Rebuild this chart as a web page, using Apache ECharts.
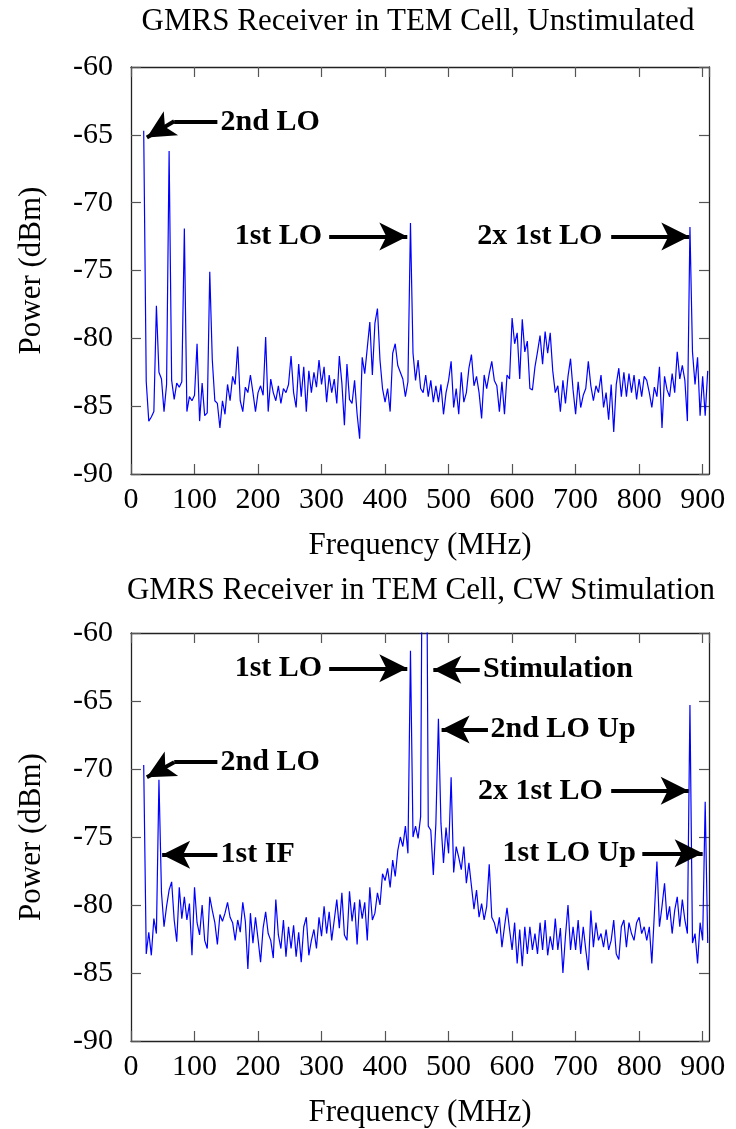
<!DOCTYPE html>
<html>
<head>
<meta charset="utf-8">
<script src="https://cdn.jsdelivr.net/npm/echarts@6/dist/echarts.min.js"></script>
<style>
  html, body { margin: 0; padding: 0; background: #fff; }
  #chart { width: 736px; height: 1129px; }
</style>
</head>
<body>
<div id="chart"></div>
<script>
// frequency grid (MHz) shared by both sweeps
var freqs = [
  20, 24, 28, 32, 36, 40, 44, 48, 52, 56,
  60, 64, 68, 72, 76, 80, 84, 88, 92, 96,
  100, 104, 108, 112, 116, 120, 124, 128, 132, 136,
  140, 144, 148, 152, 156, 160, 164, 168, 172, 176,
  180, 184, 188, 192, 196, 200, 204, 208, 212, 216,
  220, 224, 228, 232, 236, 240, 244, 248, 252, 256,
  260, 264, 268, 272, 276, 280, 284, 288, 292, 296,
  300, 304, 308, 312, 316, 320, 324, 328, 332, 336,
  340, 344, 348, 352, 356, 360, 364, 368, 372, 376,
  380, 384, 388, 392, 396, 400, 404, 408, 412, 416,
  420, 424, 428, 432, 436, 440, 444, 448, 452, 456,
  460, 464, 468, 472, 476, 480, 484, 488, 492, 496,
  500, 504, 508, 512, 516, 520, 524, 528, 532, 536,
  540, 544, 548, 552, 556, 560, 564, 568, 572, 576,
  580, 584, 588, 592, 596, 600, 604, 608, 612, 616,
  620, 624, 628, 632, 636, 640, 644, 648, 652, 656,
  660, 664, 668, 672, 676, 680, 684, 688, 692, 696,
  700, 704, 708, 712, 716, 720, 724, 728, 732, 736,
  740, 744, 748, 752, 756, 760, 764, 768, 772, 776,
  780, 784, 788, 792, 796, 800, 804, 808, 812, 816,
  820, 824, 828, 832, 836, 840, 844, 848, 852, 856,
  860, 864, 868, 872, 876, 880, 884, 888, 892, 896,
  900, 904, 908
];

// power (dBm), unstimulated
var powerUnstim = [
  -64.7, -83.2, -86.1, -85.8, -85.4, -77.6, -82.5, -83.0, -85.4, -83.4,
  -66.2, -83.1, -84.5, -83.3, -83.6, -83.2, -71.9, -85.4, -84.3, -84.6,
  -84.2, -80.4, -86.1, -83.3, -85.7, -85.5, -75.1, -81.6, -84.6, -84.8,
  -86.6, -84.6, -85.6, -83.4, -84.6, -82.8, -83.4, -80.6, -84.6, -85.4,
  -83.6, -84.0, -82.7, -84.0, -85.4, -84.0, -83.5, -84.2, -79.9, -85.4,
  -83.0, -84.0, -84.6, -83.5, -84.8, -83.7, -84.0, -83.4, -81.3, -84.0,
  -85.1, -81.9, -84.3, -82.1, -85.4, -82.4, -84.0, -82.5, -83.6, -81.6,
  -83.4, -82.1, -84.7, -82.7, -84.0, -83.0, -84.8, -81.3, -83.3, -86.4,
  -81.9, -84.5, -84.8, -83.1, -85.6, -87.4, -81.4, -82.6, -80.7, -78.8,
  -82.7, -78.9, -77.8, -81.6, -83.7, -84.7, -83.7, -85.4, -81.1, -80.4,
  -82.0, -82.5, -83.0, -84.3, -83.2, -71.5, -81.1, -83.1, -81.6, -83.7,
  -84.0, -82.7, -84.3, -83.1, -84.7, -83.5, -84.7, -83.4, -85.6, -84.0,
  -83.1, -81.7, -85.1, -83.7, -85.6, -82.5, -84.7, -84.0, -82.2, -81.2,
  -83.5, -82.8, -84.0, -85.9, -82.7, -83.7, -82.6, -81.7, -83.1, -83.5,
  -85.4, -83.2, -85.6, -82.7, -83.0, -78.5, -80.4, -79.6, -83.0, -78.6,
  -81.0, -80.2, -83.7, -83.8, -82.1, -81.0, -79.8, -81.9, -79.5, -81.1,
  -79.6, -82.4, -84.0, -83.5, -85.4, -83.1, -84.8, -82.8, -81.5, -83.8,
  -85.6, -83.2, -85.1, -84.2, -83.7, -81.7, -83.5, -84.6, -83.5, -84.0,
  -82.7, -85.1, -84.0, -86.0, -83.4, -86.9, -83.4, -82.2, -84.3, -82.5,
  -84.3, -82.6, -84.0, -82.7, -84.5, -83.0, -84.3, -82.8, -83.1, -84.0,
  -85.1, -83.6, -84.3, -82.1, -86.6, -82.8, -83.8, -84.3, -82.6, -84.0,
  -81.0, -83.0, -82.0, -83.1, -86.1, -71.8, -81.0, -83.4, -81.4, -85.7,
  -82.8, -85.7, -82.4
];

// power (dBm), CW stimulation (peak near 462 MHz runs off the top)
var powerCW = [
  -69.7, -83.6, -82.0, -83.7, -81.0, -82.1, -70.8, -79.1, -81.6, -80.1,
  -78.9, -78.3, -81.1, -82.7, -78.7, -81.0, -79.4, -81.1, -79.9, -83.7,
  -78.7, -81.3, -82.2, -80.0, -82.6, -83.2, -79.4, -80.4, -81.3, -82.9,
  -80.7, -81.2, -80.6, -79.8, -80.9, -81.3, -82.6, -81.1, -82.0, -79.8,
  -81.2, -84.7, -80.6, -82.8, -80.9, -82.5, -84.2, -81.7, -80.5, -82.1,
  -82.6, -83.9, -79.6, -82.2, -83.2, -81.1, -83.8, -81.6, -83.2, -81.5,
  -83.8, -82.0, -84.2, -81.6, -80.9, -83.7, -82.6, -81.8, -83.2, -80.9,
  -82.3, -80.1, -82.1, -80.5, -82.6, -81.1, -79.6, -81.7, -79.1, -82.2,
  -82.6, -79.0, -81.2, -79.8, -82.9, -79.6, -81.0, -79.8, -82.6, -78.7,
  -81.1, -80.6, -79.1, -80.0, -77.7, -78.2, -77.3, -78.7, -76.7, -77.9,
  -76.0, -75.0, -75.7, -74.2, -76.2, -61.3, -75.0, -74.2, -75.1, -73.5,
  -40.0, -40.0, -74.2, -74.5, -77.8, -74.0, -66.3, -74.0, -76.9, -74.3,
  -76.2, -70.6, -77.6, -75.7, -76.5, -77.4, -75.7, -78.4, -76.9, -78.6,
  -80.3, -78.9, -80.9, -79.9, -81.1, -80.1, -77.0, -80.9, -81.3, -82.1,
  -80.9, -83.1, -81.6, -80.2, -81.8, -83.3, -81.3, -84.3, -81.8, -84.5,
  -81.6, -83.6, -81.6, -83.3, -82.1, -83.6, -81.3, -83.3, -81.1, -83.7,
  -82.3, -83.3, -81.0, -83.3, -81.7, -85.0, -82.3, -80.0, -83.3, -81.6,
  -83.3, -81.1, -83.6, -81.6, -83.3, -84.8, -80.4, -83.1, -81.3, -82.6,
  -82.1, -83.1, -81.8, -83.3, -82.6, -81.1, -83.6, -84.0, -81.6, -81.1,
  -83.1, -81.3, -82.1, -82.6, -81.3, -80.9, -82.1, -81.6, -82.6, -81.6,
  -84.3, -80.6, -76.8, -81.6, -80.1, -78.4, -81.1, -80.1, -82.1, -80.4,
  -79.4, -81.6, -79.6, -81.1, -82.1, -65.3, -82.8, -82.1, -84.3, -81.3,
  -82.6, -72.4, -82.8
];

// annotations: text, anchor [MHz, dBm], which side of the anchor the text sits
var topNotes = ['2nd LO', '1st LO', '2x 1st LO'];
var topNoteAt = [[141, -64.1], [301, -72.5], [742, -72.5]];
var topNoteSide = ['right', 'left', 'left'];
var topArrows = [
  [[136, -64.0], [68, -64.0], [25, -65.2]],
  [[312, -72.5], [435, -72.5]],
  [[756, -72.5], [879, -72.5]]
];

var cwNotes = ['1st LO', 'Stimulation', '2nd LO Up', '2x 1st LO', '1st LO Up', '2nd LO', '1st IF'];
var cwNoteAt = [[301, -62.6], [554, -62.7], [566, -67.1], [743, -71.6], [795, -76.2], [141, -69.5], [141, -76.3]];
var cwNoteSide = ['left', 'right', 'right', 'left', 'left', 'right', 'right'];
var cwArrows = [
  [[312, -62.6], [435, -62.6]],
  [[549, -62.7], [476, -62.7]],
  [[562, -67.1], [489, -67.1]],
  [[756, -71.6], [878, -71.6]],
  [[805, -76.2], [900, -76.2]],
  [[136, -69.5], [68, -69.5], [25, -70.6]],
  [[136, -76.3], [49, -76.3]]
];

var serif = 'Liberation Serif';
var chart = echarts.init(document.getElementById('chart'), null, { renderer: 'canvas' });

function pairs(xs, ys) {
  return xs.map(function (x, i) { return [x, ys[i]]; });
}

function arrowLines(arrows) {
  var out = [];
  arrows.forEach(function (pts) {
    for (var j = 0; j < pts.length - 1; j++) {
      var last = j === pts.length - 2;
      out.push([
        { coord: pts[j], symbol: 'none' },
        { coord: pts[j + 1], symbol: last ? 'arrow' : 'none', symbolSize: last ? [21, 28] : 0 }
      ]);
    }
  });
  return out;
}

function noteData(notes, at, side) {
  return notes.map(function (t, i) {
    return { value: [at[i][0], at[i][1], t], label: { position: side[i] } };
  });
}

function xAxes(grid) {
  var common = {
    gridIndex: grid,
    type: 'value',
    min: 0,
    max: 910,
    interval: 100,
    splitLine: { show: false },
    axisLine: { show: true, onZero: false, lineStyle: { color: '#222', width: 1.3 } },
    axisTick: { show: true, inside: true, length: 10, lineStyle: { color: '#555', width: 1.2 } }
  };
  return [
    Object.assign({}, common, {
      position: 'bottom',
      name: 'Frequency (MHz)',
      nameLocation: 'middle',
      nameGap: 56,
      nameTextStyle: { fontFamily: serif, fontSize: 31, color: '#000' },
      axisLabel: { fontFamily: serif, fontSize: 30, color: '#000', margin: 11, showMaxLabel: false }
    }),
    Object.assign({}, common, { position: 'top', axisLabel: { show: false } })
  ];
}

function yAxes(grid) {
  var common = {
    gridIndex: grid,
    type: 'value',
    min: -90,
    max: -60,
    interval: 5,
    splitLine: { show: false },
    axisLine: { show: true, onZero: false, lineStyle: { color: '#222', width: 1.3 } },
    axisTick: { show: true, inside: true, length: 10, lineStyle: { color: '#555', width: 1.2 } }
  };
  return [
    Object.assign({}, common, {
      position: 'left',
      name: 'Power (dBm)',
      nameLocation: 'middle',
      nameGap: 84,
      nameRotate: 90,
      nameTextStyle: { fontFamily: serif, fontSize: 31, color: '#000' },
      axisLabel: { fontFamily: serif, fontSize: 30, color: '#000', margin: 18 }
    }),
    Object.assign({}, common, { position: 'right', axisLabel: { show: false } })
  ];
}

function traceSeries(axisIdx, ys, arrows) {
  return {
    type: 'line',
    xAxisIndex: axisIdx,
    yAxisIndex: axisIdx,
    data: pairs(freqs, ys),
    showSymbol: false,
    symbol: 'none',
    clip: true,
    lineStyle: { color: '#0000ff', width: 1.2 },
    markLine: {
      silent: true,
      symbol: ['none', 'none'],
      lineStyle: { color: '#000', width: 4, type: 'solid', opacity: 1 },
      itemStyle: { color: '#000' },
      label: { show: false },
      emphasis: { disabled: true },
      data: arrowLines(arrows)
    }
  };
}

function noteSeries(axisIdx, notes, at, side) {
  return {
    type: 'scatter',
    xAxisIndex: axisIdx,
    yAxisIndex: axisIdx,
    symbolSize: 0,
    silent: true,
    itemStyle: { opacity: 1, color: '#000' },
    label: {
      show: true,
      distance: 0,
      opacity: 1,
      fontFamily: serif,
      fontWeight: 'bold',
      fontSize: 30,
      color: '#000',
      textBorderWidth: 0,
      formatter: function (p) { return p.value[2]; }
    },
    data: noteData(notes, at, side)
  };
}

var titleStyle = { fontFamily: serif, fontWeight: 'normal', fontSize: 31, color: '#000' };

chart.setOption({
  animation: false,
  backgroundColor: '#fff',
  title: [
    { text: 'GMRS Receiver in TEM Cell, Unstimulated', left: 413, top: 1, textAlign: 'center', textStyle: titleStyle },
    { text: 'GMRS Receiver in TEM Cell, CW Stimulation', left: 416, top: 570, textAlign: 'center', textStyle: titleStyle }
  ],
  grid: [
    { left: 131, top: 67, width: 578, height: 407 },
    { left: 131, top: 633, width: 578, height: 408 }
  ],
  xAxis: xAxes(0).concat(xAxes(1)),
  yAxis: yAxes(0).concat(yAxes(1)),
  series: [
    traceSeries(0, powerUnstim, topArrows),
    noteSeries(0, topNotes, topNoteAt, topNoteSide),
    traceSeries(2, powerCW, cwArrows),
    noteSeries(2, cwNotes, cwNoteAt, cwNoteSide)
  ]
});
</script>
</body>
</html>
